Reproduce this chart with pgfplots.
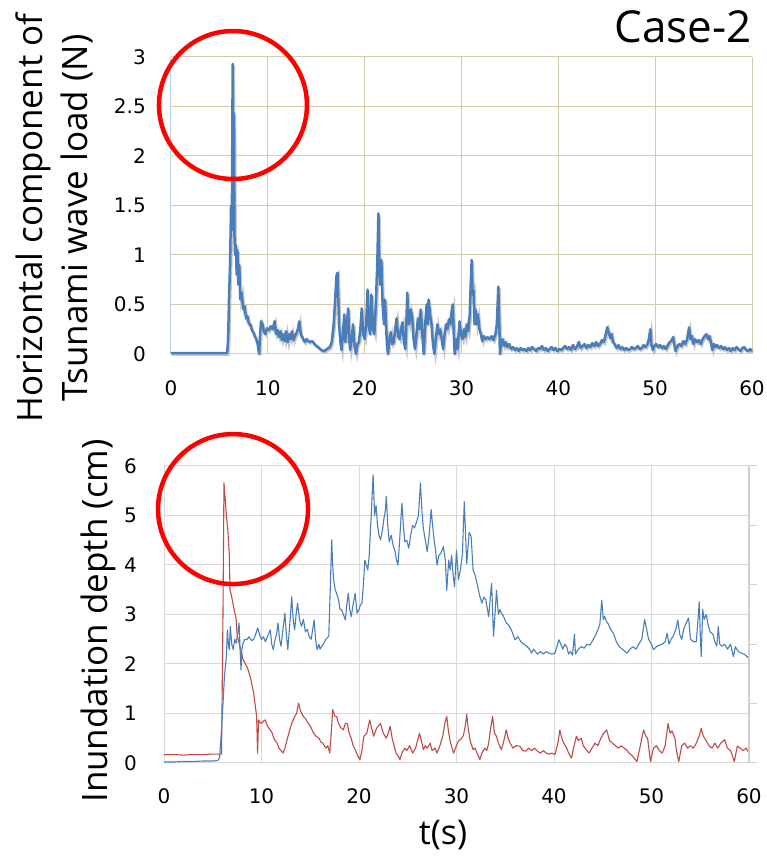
\documentclass[border=0pt]{standalone}
\usepackage{pgfplots}
\pgfplotsset{compat=1.18}
\usepackage{fontspec}
\setmainfont{Open Sans}
\newfontfamily\tickfont{DejaVu Sans}
\definecolor{gridbeige}{RGB}{212,204,166}
\definecolor{axblue}{RGB}{190,210,238}
\definecolor{lineblue}{RGB}{74,126,187}
\definecolor{linered}{RGB}{190,75,72}
\definecolor{gridgrey}{RGB}{217,217,217}
\definecolor{rightgrey}{RGB}{208,208,208}

\pgfplotstableread{
t v
0 0.01
5.8 0.01
5.9 0.15
6.0 0.6
6.1 0.9
6.2 1.5
6.28 1.25
6.37 2.93
6.43 1.4
6.5 2.43
6.55 1.2
6.62 1.0
6.7 1.1
6.78 0.8
6.86 1.05
6.95 0.7
7.05 0.9
7.15 0.55
7.3 0.62
7.45 0.45
7.6 0.48
7.75 0.36
7.9 0.38
8.05 0.3
8.2 0.3
8.35 0.24
8.5 0.22
8.65 0.18
8.8 0.15
8.95 0.1
9.1 0.0
9.2 0.2
9.3 0.33
9.45 0.3
9.6 0.22
9.75 0.2
9.9 0.26
10.1 0.24
10.3 0.28
10.5 0.25
10.7 0.33
10.85 0.2
11.0 0.24
11.15 0.17
11.3 0.23
11.45 0.14
11.6 0.2
11.75 0.13
11.9 0.23
12.05 0.12
12.2 0.2
12.35 0.15
12.5 0.23
12.65 0.14
12.8 0.18
12.95 0.21
13.1 0.25
13.25 0.33
13.4 0.2
13.6 0.16
13.8 0.12
14.0 0.15
14.3 0.12
14.6 0.13
14.9 0.09
15.2 0.07
15.5 0.04
15.8 0.03
16.1 0.05
16.4 0.07
16.6 0.12
16.8 0.3
16.95 0.55
17.1 0.8
17.2 0.82
17.35 0.3
17.5 0.12
17.6 0.04
17.75 0.2
17.9 0.4
18.0 0.12
18.15 0.3
18.3 0.46
18.4 0.15
18.5 0.04
18.65 0.15
18.8 0.3
18.95 0.08
19.1 0.0
19.25 0.1
19.4 0.12
19.55 0.25
19.7 0.46
19.85 0.2
20.0 0.15
20.15 0.3
20.3 0.65
20.4 0.3
20.55 0.2
20.7 0.6
20.85 0.25
21.0 0.2
21.15 0.5
21.3 0.9
21.42 1.42
21.5 0.9
21.6 0.7
21.72 0.95
21.85 0.5
22.0 0.3
22.1 0.55
22.2 0.3
22.3 0.1
22.4 0.0
22.55 0.15
22.7 0.22
22.85 0.1
23.0 0.12
23.15 0.25
23.3 0.36
23.45 0.18
23.6 0.15
23.75 0.25
23.9 0.32
24.05 0.12
24.2 0.05
24.3 0.3
24.4 0.62
24.5 0.35
24.6 0.3
24.75 0.45
24.9 0.38
25.05 0.15
25.2 0.05
25.35 0.2
25.5 0.36
25.65 0.25
25.8 0.45
25.95 0.2
26.1 0.0
26.25 0.3
26.4 0.5
26.5 0.3
26.6 0.55
26.75 0.4
26.9 0.3
27.05 0.1
27.2 0.0
27.35 0.15
27.5 0.3
27.65 0.2
27.8 0.25
27.95 0.15
28.1 0.05
28.25 0.2
28.4 0.3
28.55 0.25
28.7 0.35
28.85 0.3
29.0 0.45
29.1 0.5
29.2 0.2
29.3 0.0
29.45 0.15
29.6 0.05
29.8 0.33
29.95 0.2
30.1 0.15
30.25 0.25
30.4 0.17
30.55 0.3
30.7 0.23
30.85 0.4
30.95 0.7
31.05 0.95
31.15 0.6
31.25 0.64
31.35 0.3
31.45 0.45
31.55 0.3
31.7 0.4
31.85 0.25
32.0 0.2
32.15 0.13
32.3 0.18
32.5 0.15
32.7 0.17
32.9 0.15
33.1 0.18
33.3 0.14
33.5 0.2
33.65 0.3
33.8 0.68
33.9 0.3
33.97 0.0
34.1 0.13
34.25 0.15
34.4 0.08
34.55 0.12
34.7 0.07
34.9 0.1
35.1 0.05
35.3 0.07
35.5 0.04
35.7 0.06
35.9 0.03
36.1 0.06
36.3 0.04
36.5 0.05
36.7 0.03
36.9 0.06
37.1 0.04
37.3 0.07
37.5 0.05
37.7 0.03
37.9 0.06
38.1 0.05
38.3 0.08
38.5 0.04
38.7 0.06
38.9 0.03
39.1 0.05
39.3 0.07
39.5 0.04
39.7 0.06
39.9 0.03
40.1 0.05
40.3 0.04
40.5 0.06
40.7 0.08
40.9 0.05
41.1 0.07
41.3 0.04
41.5 0.09
41.7 0.05
41.9 0.07
42.1 0.12
42.3 0.06
42.5 0.08
42.7 0.1
42.9 0.06
43.1 0.09
43.3 0.07
43.5 0.11
43.7 0.08
43.9 0.12
44.1 0.08
44.3 0.1
44.5 0.14
44.7 0.12
44.9 0.2
45.05 0.27
45.2 0.22
45.35 0.16
45.5 0.2
45.65 0.12
45.8 0.1
46.0 0.06
46.2 0.09
46.4 0.05
46.6 0.07
46.8 0.04
47.0 0.06
47.2 0.04
47.4 0.05
47.6 0.07
47.8 0.05
48.0 0.06
48.2 0.08
48.4 0.05
48.6 0.06
48.8 0.09
49.0 0.07
49.2 0.1
49.35 0.15
49.5 0.25
49.6 0.1
49.75 0.04
49.9 0.08
50.1 0.1
50.3 0.07
50.5 0.09
50.7 0.06
50.9 0.08
51.1 0.05
51.3 0.09
51.5 0.12
51.7 0.14
51.85 0.17
52.0 0.08
52.1 0.03
52.3 0.08
52.5 0.1
52.7 0.08
52.9 0.13
53.1 0.1
53.3 0.15
53.5 0.27
53.65 0.15
53.8 0.18
53.95 0.1
54.1 0.15
54.3 0.12
54.5 0.14
54.7 0.1
54.9 0.15
55.1 0.18
55.3 0.2
55.45 0.15
55.6 0.18
55.75 0.12
55.9 0.04
56.05 0.1
56.2 0.07
56.4 0.09
56.6 0.06
56.8 0.08
57.0 0.05
57.2 0.07
57.4 0.04
57.6 0.06
57.8 0.03
58.0 0.06
58.2 0.04
58.4 0.07
58.6 0.05
58.8 0.03
59.0 0.06
59.2 0.07
59.4 0.04
59.6 0.03
59.8 0.05
60.0 0.03
}\loadtable

\pgfplotstableread{
t v
0 0.17
1 0.17
2 0.16
3 0.17
4 0.17
5 0.18
5.9 0.18
6.05 3.0
6.15 5.66
6.25 5.4
6.4 5.0
6.55 4.7
6.7 4.2
6.77 3.5
6.95 3.35
7.1 3.2
7.25 3.05
7.4 2.9
7.5 2.6
7.6 2.5
7.85 2.3
8.1 2.1
8.35 2.0
8.6 1.9
8.9 1.7
9.2 1.4
9.4 1.1
9.5 0.94
9.6 0.2
9.7 0.87
9.85 0.82
10.0 0.8
10.2 0.85
10.4 0.87
10.6 0.75
10.9 0.67
11.1 0.6
11.3 0.48
11.6 0.4
11.8 0.3
12.0 0.25
12.2 0.2
12.4 0.3
12.6 0.45
12.9 0.67
13.1 0.8
13.4 0.94
13.6 1.0
13.8 1.21
14.0 1.05
14.3 0.94
14.5 0.9
14.8 0.8
15.0 0.75
15.3 0.62
15.6 0.54
15.9 0.5
16.1 0.42
16.3 0.4
16.6 0.3
16.8 0.35
17.0 0.2
17.15 0.6
17.3 1.08
17.5 0.95
17.7 0.94
17.9 0.8
18.1 0.72
18.4 0.67
18.6 0.8
18.8 0.8
19.0 0.6
19.2 0.5
19.4 0.35
19.6 0.27
19.85 0.15
20.1 0.07
20.3 0.25
20.5 0.54
20.8 0.6
21.1 0.87
21.3 0.7
21.5 0.54
21.8 0.7
22.0 0.75
22.2 0.8
22.5 0.6
22.8 0.5
23.0 0.6
23.2 0.74
23.4 0.5
23.6 0.35
23.8 0.2
24.0 0.15
24.2 0.07
24.4 0.2
24.7 0.3
24.9 0.25
25.2 0.35
25.5 0.2
25.8 0.3
26.0 0.45
26.2 0.6
26.4 0.45
26.6 0.27
26.8 0.35
27.0 0.3
27.3 0.4
27.5 0.25
27.8 0.3
28.0 0.2
28.3 0.35
28.6 0.55
28.8 0.8
29.0 0.94
29.2 0.6
29.4 0.4
29.7 0.2
29.9 0.3
30.2 0.45
30.4 0.47
30.7 0.55
30.9 0.75
31.05 0.98
31.2 0.7
31.4 0.45
31.7 0.27
31.9 0.3
32.1 0.2
32.4 0.07
32.6 0.2
32.9 0.3
33.1 0.25
33.3 0.4
33.5 0.7
33.7 0.94
33.9 0.6
34.1 0.54
34.3 0.4
34.6 0.27
34.8 0.4
35.1 0.67
35.3 0.5
35.5 0.4
35.8 0.3
36.1 0.35
36.5 0.34
36.8 0.25
37.1 0.24
37.4 0.3
37.7 0.25
38.0 0.3
38.3 0.24
38.6 0.2
38.9 0.25
39.2 0.2
39.5 0.18
39.8 0.2
40.1 0.17
40.4 0.4
40.6 0.67
40.8 0.5
41.0 0.4
41.3 0.3
41.5 0.2
41.8 0.1
42.0 0.3
42.3 0.54
42.5 0.45
42.8 0.5
43.0 0.35
43.3 0.27
43.6 0.2
43.9 0.3
44.2 0.4
44.5 0.35
44.8 0.5
45.1 0.6
45.4 0.67
45.7 0.45
46.0 0.4
46.3 0.35
46.6 0.3
46.9 0.35
47.2 0.3
47.4 0.27
47.7 0.2
48.0 0.15
48.2 0.1
48.5 0.03
48.8 0.3
49.0 0.5
49.2 0.67
49.4 0.55
49.6 0.5
49.9 0.03
50.2 0.3
50.5 0.35
50.8 0.25
51.1 0.2
51.4 0.35
51.7 0.8
51.9 0.6
52.1 0.65
52.4 0.5
52.6 0.2
52.8 0.03
53.1 0.35
53.4 0.4
53.7 0.3
54.0 0.35
54.3 0.3
54.6 0.4
54.9 0.55
55.1 0.7
55.3 0.55
55.6 0.45
55.9 0.35
56.2 0.3
56.5 0.4
56.8 0.3
57.1 0.4
57.5 0.47
57.8 0.3
58.1 0.25
58.3 0.15
58.5 0.03
58.8 0.34
59.1 0.3
59.4 0.25
59.7 0.3
60.0 0.2
}\redtable

\pgfplotstableread{
t v
0 0.02
1 0.02
2 0.03
3 0.03
4 0.04
5 0.04
5.5 0.05
5.7 0.1
5.9 0.67
6.0 1.01
6.2 1.75
6.4 2.15
6.5 2.69
6.6 2.4
6.7 2.29
6.8 2.76
6.95 2.4
7.1 2.29
7.25 2.5
7.4 2.42
7.55 2.6
7.7 2.83
7.8 2.3
7.9 1.88
8.0 2.3
8.1 2.42
8.3 2.5
8.5 2.49
8.7 2.55
9.0 2.47
9.2 2.5
9.4 2.6
9.6 2.73
9.8 2.6
10.0 2.49
10.2 2.55
10.4 2.45
10.6 2.55
10.9 2.69
11.05 2.4
11.2 2.29
11.4 2.5
11.55 2.6
11.7 2.83
11.85 2.5
12.0 2.36
12.2 2.7
12.4 3.03
12.55 2.6
12.7 2.29
12.9 2.8
13.1 3.36
13.25 2.9
13.4 2.69
13.55 3.0
13.7 3.23
13.9 2.9
14.1 2.76
14.3 2.9
14.5 2.65
14.7 2.7
14.9 2.55
15.1 2.5
15.25 2.7
15.4 2.89
15.55 2.5
15.7 2.29
15.9 2.4
16.0 2.3
16.2 2.36
16.4 2.42
16.6 2.5
16.9 2.56
17.05 3.5
17.2 4.51
17.3 4.0
17.4 3.7
17.55 3.5
17.7 3.43
17.9 3.3
18.05 3.1
18.2 3.1
18.4 3.0
18.6 2.89
18.75 3.2
18.9 3.43
19.05 3.1
19.2 2.96
19.4 3.2
19.6 3.43
19.8 3.03
20.0 3.1
20.15 3.2
20.3 3.23
20.45 3.6
20.6 4.1
20.75 4.0
20.9 3.9
21.05 4.2
21.25 5.0
21.45 5.82
21.6 5.0
21.75 5.2
21.9 4.8
22.05 4.6
22.2 4.51
22.4 4.7
22.55 4.93
22.7 5.1
22.8 5.39
22.95 4.8
23.1 4.47
23.3 4.6
23.5 4.4
23.7 4.27
23.85 4.1
24.0 4.0
24.2 4.6
24.4 5.25
24.55 4.8
24.7 4.47
24.9 4.5
25.1 4.34
25.3 4.6
25.5 4.8
25.7 4.75
25.9 4.87
26.1 5.0
26.3 5.66
26.45 5.1
26.6 4.74
26.8 4.5
27.0 4.27
27.2 4.6
27.4 5.12
27.55 4.8
27.7 4.51
27.85 4.3
28.0 4.0
28.2 4.2
28.4 4.24
28.65 4.37
28.85 4.1
29.0 3.49
29.2 4.1
29.35 3.9
29.5 4.2
29.65 3.8
29.8 3.56
30.0 4.3
30.2 3.7
30.4 3.9
30.6 4.2
30.8 5.28
30.95 4.5
31.05 4.03
31.2 4.4
31.3 4.66
31.5 4.58
31.7 3.9
31.9 3.8
32.1 3.63
32.35 3.4
32.6 3.23
32.8 3.35
33.0 3.3
33.3 2.96
33.45 3.3
33.6 3.63
33.7 3.1
33.8 2.56
33.95 3.0
34.1 3.49
34.3 3.0
34.45 3.1
34.6 3.03
34.85 2.95
35.1 2.83
35.3 2.8
35.6 2.7
35.8 2.6
36.0 2.49
36.3 2.55
36.6 2.45
36.9 2.4
37.2 2.36
37.5 2.3
37.7 2.22
37.9 2.3
38.1 2.25
38.3 2.2
38.6 2.25
38.9 2.2
39.2 2.25
39.5 2.22
39.8 2.2
40.1 2.22
40.3 2.35
40.5 2.49
40.7 2.4
40.9 2.3
41.1 2.4
41.3 2.35
41.5 2.2
41.7 2.25
41.9 2.18
42.1 2.6
42.2 2.2
42.5 2.3
42.8 2.35
43.1 2.32
43.4 2.4
43.7 2.38
44.0 2.49
44.3 2.6
44.5 2.69
44.7 2.8
44.9 3.29
45.05 2.9
45.2 2.96
45.4 2.85
45.6 2.8
45.8 2.7
46.1 2.62
46.4 2.45
46.7 2.35
47.0 2.3
47.3 2.25
47.5 2.22
47.8 2.3
48.1 2.35
48.4 2.3
48.7 2.4
49.0 2.5
49.15 2.7
49.3 2.9
49.5 2.7
49.7 2.5
50.0 2.4
50.2 2.29
50.5 2.35
50.8 2.38
51.1 2.4
51.4 2.45
51.6 2.62
51.8 2.4
52.0 2.5
52.2 2.55
52.5 2.7
52.7 2.89
52.9 2.6
53.1 2.5
53.3 2.7
53.5 2.8
53.8 2.93
54.0 2.5
54.3 2.45
54.6 2.45
54.9 3.26
55.0 2.6
55.1 2.15
55.25 3.1
55.4 2.9
55.6 3.0
55.8 2.8
56.0 2.65
56.3 2.6
56.5 2.45
56.7 2.36
56.85 2.76
57.0 2.4
57.2 2.36
57.5 2.4
57.8 2.3
58.1 2.4
58.4 2.15
58.6 2.35
58.9 2.25
59.2 2.22
59.5 2.2
59.8 2.15
60.0 2.11
}\bluetable

\begin{document}
\begin{tikzpicture}
\path[use as bounding box] (0pt,0pt) rectangle (767pt,862pt);

% ---------------- top panel ----------------
\begin{scope}[shift={(171pt,508pt)}]
\begin{axis}[
  at={(0pt,0pt)}, anchor=south west,
  scale only axis, width=581pt, height=297pt,
  xmin=0, xmax=60, ymin=0, ymax=3,
  xtick={0,10,...,60}, ytick={0,0.5,...,3},
  axis lines=left,
  axis line style={-, axblue, line width=1pt},
  grid=major, major grid style={gridbeige, line width=1pt},
  major tick length=0pt,
  /pgf/number format/assume math mode=true,
  ticklabel style={font=\tickfont\fontsize{20}{23}\selectfont, inner sep=0pt},
  yticklabel style={anchor=east, xshift=-25pt},
  xticklabel style={anchor=north, yshift=-26pt},
  ylabel={Horizontal component of\\Tsunami wave load (N)},
  ylabel style={at={(axis description cs:-0.134,0.458)}, anchor=south,
    inner sep=0pt, align=center,
    font=\fontsize{35}{45}\selectfont},
  clip=false,
]
\addplot[gray!45, line width=2.5pt, shift={(1.2pt,-1.5pt)}, forget plot] table[x=t,y=v] {\loadtable};
\addplot[lineblue, line width=2.5pt, line join=round] table[x=t,y=v] {\loadtable};
\draw[red, line width=4.5pt] (axis cs:6.4,2.515) circle[radius=74pt];
\end{axis}
\end{scope}

% ---------------- bottom panel ----------------
\begin{scope}[shift={(164pt,99pt)}]
\begin{axis}[
  at={(0pt,0pt)}, anchor=south west,
  scale only axis, width=585pt, height=297pt,
  xmin=0, xmax=60, ymin=0, ymax=6,
  xtick={0,10,...,60}, ytick={0,1,...,6},
  axis lines=left,
  axis line style={-, gridgrey, line width=1pt},
  grid=major, major grid style={gridgrey, line width=1pt},
  major tick length=0pt,
  /pgf/number format/assume math mode=true,
  ticklabel style={font=\tickfont\fontsize{20}{23}\selectfont, inner sep=0pt},
  yticklabel style={anchor=east, xshift=-27pt},
  xticklabel style={anchor=north, yshift=-25pt},
  ylabel={Inundation depth (cm)},
  ylabel style={at={(axis description cs:-0.082,0.478)}, anchor=south,
    inner sep=0pt, font=\fontsize{35}{45}\selectfont},
  xlabel={t(s)},
  xlabel style={at={(axis description cs:0.477,-0.192)}, anchor=north,
    inner sep=0pt, font=\fontsize{34}{40}\selectfont},
  clip=false,
]
\addplot[linered, line width=1.1pt, line join=round] table[x=t,y=v] {\redtable};
\addplot[lineblue, line width=1.1pt, line join=round] table[x=t,y=v] {\bluetable};
\draw[red, line width=4.5pt] (axis cs:7.08,5.13) circle[radius=75pt];
\end{axis}
\begin{axis}[
  at={(0pt,0pt)}, anchor=south west,
  scale only axis, width=585pt, height=297pt,
  xmin=0, xmax=60, ymin=0, ymax=6,
  axis y line*=right, axis x line=none,
  axis line style={-, rightgrey, line width=2pt},
  ytick={0,1.2,2.4,3.6,4.8,6}, yticklabels={},
  tick align=outside, major tick length=8pt,
  tick style={rightgrey, line width=1pt},
]
\end{axis}
\end{scope}

\node[anchor=base east, inner sep=0pt, font=\fontsize{44}{50}\selectfont] at (752pt,819pt) {Case-2};
\end{tikzpicture}
\end{document}
